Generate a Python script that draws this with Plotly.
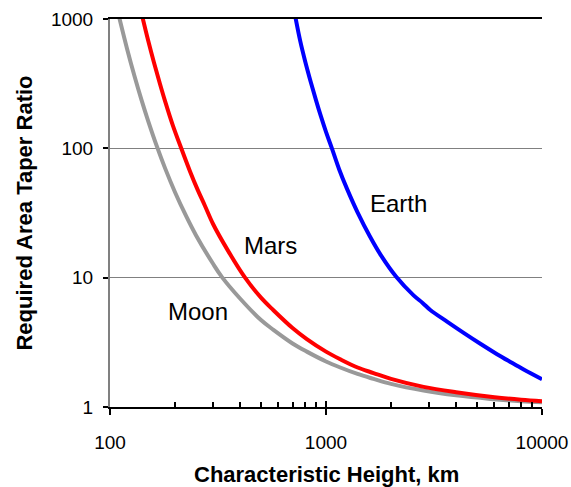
import math
import plotly.graph_objects as go

# Characteristic height (km) and required area taper ratio
moon_h = [110, 120, 130, 140, 150, 165, 180, 200, 225, 250, 300, 330, 400, 500, 571, 700, 815, 1000, 1164, 1400, 1660, 2000, 2830, 4000, 5767, 8000, 10000]
moon_r = [1050, 587, 359, 236, 164, 103, 70, 45.8, 30, 21.3, 12.8, 10.1, 6.9, 4.7, 3.95, 3.1, 2.68, 2.25, 2.02, 1.80, 1.65, 1.51, 1.34, 1.23, 1.155, 1.109, 1.087]

mars_h = [141, 150, 160, 170, 180, 195, 215, 235, 255, 275, 300, 350, 422, 500, 571, 700, 815, 1000, 1164, 1400, 1660, 2000, 2830, 4000, 5767, 8000, 10000]
mars_r = [1050, 688, 457, 319, 231, 152, 97.5, 66, 47.5, 36, 26, 16.4, 10, 7.0, 5.6, 4.08, 3.35, 2.68, 2.34, 2.02, 1.83, 1.65, 1.43, 1.30, 1.20, 1.14, 1.11]

earth_h = [722, 760, 800, 850, 900, 950, 1000, 1065, 1150, 1250, 1400, 1600, 1800, 2109, 2544, 2800, 3040, 3633, 4338, 5183, 6193, 7139, 8226, 10000]
earth_r = [1030, 674, 474, 326, 234, 174, 134, 100, 69, 48.8, 32, 20.7, 14.8, 10.2, 7.29, 6.38, 5.62, 4.57, 3.74, 3.08, 2.56, 2.23, 1.95, 1.64]

x_major = [100, 1000, 10000]
x_minor = [200, 300, 400, 500, 600, 700, 800, 900, 2000, 3000, 4000, 5000, 6000, 7000, 8000, 9000]
y_ticks = [1, 10, 100, 1000]

labels = ["Earth", "Mars", "Moon"]
label_x = [2161, 551, 255.7]
label_y = [37.4, 17.7, 5.48]

x_title = "Characteristic Height, km"
y_title = "Required Area Taper Ratio"

FONT = "Liberation Sans, Arial, sans-serif"

fig = go.Figure()
fig.add_trace(go.Scatter(x=moon_h, y=moon_r, mode="lines",
                         line=dict(color="#999999", width=4, shape="spline", smoothing=1.0), name="Moon"))
fig.add_trace(go.Scatter(x=mars_h, y=mars_r, mode="lines",
                         line=dict(color="#ff0000", width=4, shape="spline", smoothing=1.0), name="Mars"))
fig.add_trace(go.Scatter(x=earth_h, y=earth_r, mode="lines",
                         line=dict(color="#0000ff", width=4, shape="spline", smoothing=1.0), name="Earth"))
# invisible trace to activate the overlay axis used for the inner half of major ticks
fig.add_trace(go.Scatter(x=[100, 10000], y=[1, 1], mode="markers", marker=dict(opacity=0),
                         xaxis="x2", showlegend=False, hoverinfo="skip"))

for t, lx, ly in zip(labels, label_x, label_y):
    fig.add_annotation(x=math.log10(lx), y=math.log10(ly), text=t, showarrow=False,
                       font=dict(family=FONT, size=24, color="black"))

# x-axis title placed as a paper annotation
fig.add_annotation(x=0.5, y=-0.1727, xref="paper", yref="paper", xanchor="center", yanchor="middle",
                   text="<b>" + x_title + "</b>", showarrow=False,
                   font=dict(family=FONT, size=22, color="black"))

fig.update_layout(
    width=571, height=487,
    margin=dict(l=110, r=29, t=19, b=80),
    paper_bgcolor="white", plot_bgcolor="white",
    showlegend=False,
    font=dict(family=FONT, size=19, color="black"),
    xaxis=dict(
        type="log", range=[2, 4], automargin=False,
        tickvals=x_major, ticktext=[str(v) for v in x_major],
        ticks="outside", ticklen=6, tickwidth=2, tickcolor="black",
        showline=True, linecolor="black", linewidth=2, mirror=True,
        showgrid=False, zeroline=False,
        ticklabelstandoff=11,
        minor=dict(tickvals=x_minor, ticks="inside", ticklen=5, tickwidth=1.5,
                   tickcolor="black", showgrid=False),
    ),
    xaxis2=dict(
        type="log", range=[2, 4], overlaying="x", side="bottom", automargin=False,
        tickvals=x_major, showticklabels=False,
        ticks="inside", ticklen=6, tickwidth=2, tickcolor="black",
        showline=False, showgrid=False, zeroline=False,
    ),
    yaxis=dict(
        type="log", range=[0, 3], automargin=False,
        tickvals=y_ticks, ticktext=[str(v) for v in y_ticks],
        ticks="outside", ticklen=5, tickwidth=1.5, tickcolor="black",
        showline=True, linecolor="#808080", linewidth=2,
        showgrid=True, gridcolor="#808080", gridwidth=1,
        zeroline=False,
        ticklabelstandoff=6,
        title=dict(text="<b>" + y_title + "</b>", font=dict(family=FONT, size=22), standoff=12),
    ),
)

fig.write_html(
    "out.html",
    config={"displayModeBar": False},
    post_script="document.body.style.margin='0';document.body.style.padding='0';document.body.style.overflow='hidden';",
)
